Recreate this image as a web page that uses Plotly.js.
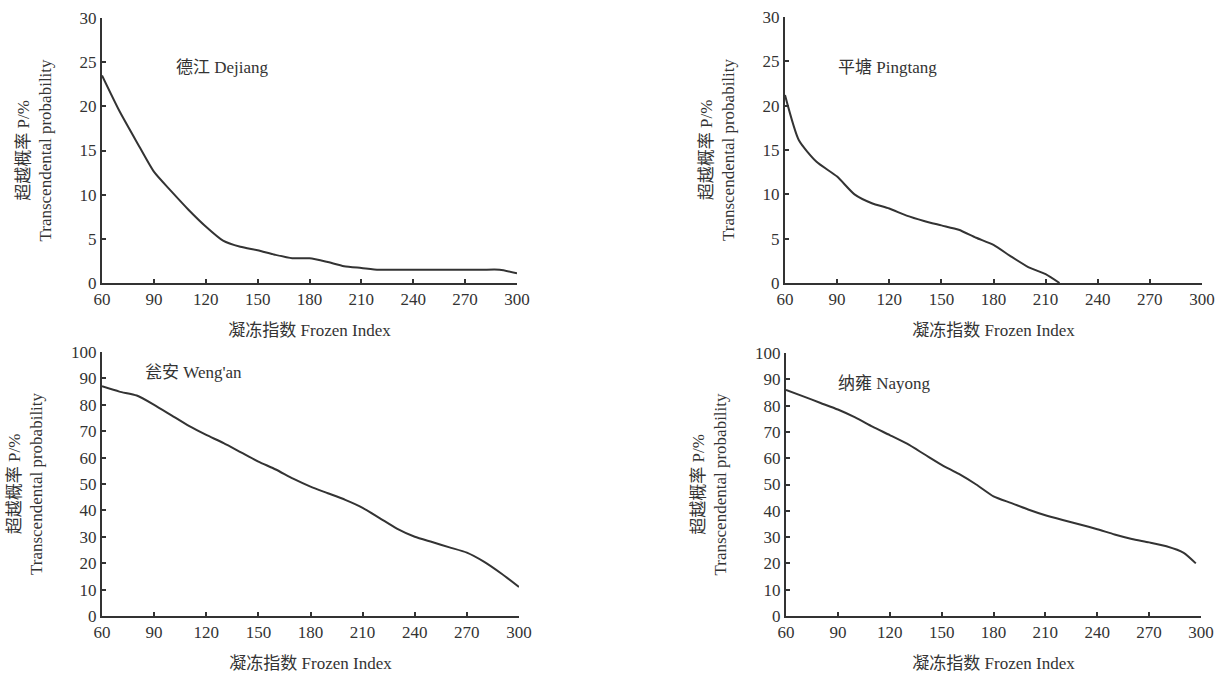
<!DOCTYPE html>
<html>
<head>
<meta charset="utf-8">
<script src="https://cdn.plot.ly/plotly-3.0.1.min.js"></script>
<style>html,body{margin:0;padding:0;background:#fff;}#chart{width:1218px;height:678px;}</style>
</head>
<body>
<div id="chart"></div>
<script>
// Frozen index (x) values and transcendental probability (%) for each station
const dejiangX = [60, 70, 80, 90, 100, 110, 120, 130, 140, 150, 160, 170, 180, 190, 200, 210, 220, 230, 240, 250, 260, 270, 280, 290, 300];
const dejiangY = [23.5, 19.5, 16.0, 12.6, 10.4, 8.3, 6.4, 4.8, 4.1, 3.7, 3.2, 2.8, 2.8, 2.4, 1.9, 1.7, 1.5, 1.5, 1.5, 1.5, 1.5, 1.5, 1.5, 1.5, 1.1];

const pingtangX = [60, 68, 78, 90, 100, 110, 120, 130, 140, 150, 160, 170, 180, 190, 200, 210, 218];
const pingtangY = [21.2, 16.1, 13.7, 12.0, 10.0, 9.0, 8.4, 7.6, 7.0, 6.5, 6.0, 5.1, 4.3, 3.0, 1.8, 1.0, 0];

const wenganX = [60, 70, 80, 90, 100, 110, 120, 130, 140, 150, 160, 170, 180, 190, 200, 210, 220, 230, 240, 250, 260, 270, 280, 290, 300];
const wenganY = [87, 85, 83.5, 80, 76, 72, 68.6, 65.5, 62, 58.5, 55.5, 52, 49, 46.5, 44, 41, 37, 33, 30, 28, 26, 24, 20.5, 16, 11];

const nayongX = [60, 70, 80, 90, 100, 110, 120, 130, 140, 150, 160, 170, 180, 190, 200, 210, 220, 230, 240, 250, 260, 270, 280, 290, 297];
const nayongY = [86, 83.5, 81, 78.5, 75.5, 72, 68.8, 65.5, 61.5, 57.5, 54, 50, 45.5, 43, 40.5, 38.3, 36.5, 34.8, 33, 31, 29.3, 28, 26.5, 24, 20];

const stationNames = ["德江 Dejiang", "平塘 Pingtang", "瓮安 Weng'an", "纳雍 Nayong"];
const xTitle = "凝冻指数 Frozen Index";
const yTitle = "超越概率 P/%<br>Transcendental probability";
const xTicks = [60, 90, 120, 150, 180, 210, 240, 270, 300];

const FONT = "Liberation Serif, 'Noto Sans CJK SC', serif";
const INK = "#333";

function line(x, y, xa, ya) {
  return {x: x, y: y, xaxis: xa, yaxis: ya, type: "scatter", mode: "lines",
          line: {color: INK, width: 2, shape: "spline", smoothing: 0.6}, hoverinfo: "x+y"};
}

const data = [
  line(dejiangX, dejiangY, "x", "y"),
  line(pingtangX, pingtangY, "x2", "y2"),
  line(wenganX, wenganY, "x3", "y3"),
  line(nayongX, nayongY, "x4", "y4")
];

function xax(domain, anchor) {
  return {domain: domain, anchor: anchor, range: [60, 300], tickvals: xTicks,
          showline: true, linecolor: INK, linewidth: 2, ticks: "inside", ticklen: 4, tickwidth: 2, tickcolor: INK,
          showgrid: false, zeroline: false, tickfont: {family: FONT, size: 17, color: INK},
          title: {text: xTitle, font: {family: FONT, size: 17, color: INK}, standoff: 16}};
}
function yax(domain, anchor, max, dt) {
  return {domain: domain, anchor: anchor, range: [0, max], dtick: dt, tick0: 0,
          showline: true, linecolor: INK, linewidth: 2, ticks: "inside", ticklen: 4, tickwidth: 2, tickcolor: INK,
          showgrid: false, zeroline: false, tickfont: {family: FONT, size: 17, color: INK},
          title: {text: yTitle, font: {family: FONT, size: 17, color: INK}, standoff: 24}};
}

const W = 1218, H = 678;
const px = v => v / W, py = v => 1 - v / H;

function label(text, x, y) {
  return {text: text, xref: "paper", yref: "paper", x: px(x), y: py(y), xanchor: "center", yanchor: "middle",
          showarrow: false, font: {family: FONT, size: 17, color: INK}};
}

const layout = {
  width: W, height: H, margin: {l: 0, r: 0, t: 0, b: 0},
  paper_bgcolor: "#fff", plot_bgcolor: "#fff", showlegend: false,
  xaxis: xax([px(102), px(517)], "y"),
  yaxis: yax([py(283), py(18)], "x", 30, 5),
  xaxis2: xax([px(785), px(1202)], "y2"),
  yaxis2: yax([py(283), py(17)], "x2", 30, 5),
  xaxis3: xax([px(102), px(519)], "y3"),
  yaxis3: yax([py(616), py(352)], "x3", 100, 10),
  xaxis4: xax([px(786), px(1201)], "y4"),
  yaxis4: yax([py(616), py(353)], "x4", 100, 10),
  annotations: [
    label(stationNames[0], 222, 67),
    label(stationNames[1], 887, 68),
    label(stationNames[2], 193, 372),
    label(stationNames[3], 884, 383)
  ]
};

Plotly.newPlot("chart", data, layout, {displayModeBar: false, staticPlot: true});
</script>
</body>
</html>
